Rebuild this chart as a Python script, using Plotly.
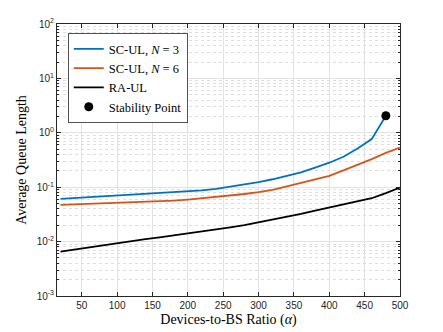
"""Average queue length vs devices-to-BS ratio (log scale)."""

import plotly.graph_objects as go

# Devices-to-BS ratio samples
alpha = [20, 40, 60, 80, 100, 120, 140, 160, 180, 200, 220, 240, 260,
         280, 300, 320, 340, 360, 380, 400, 420, 440, 460, 480, 500]

# SC-UL, N = 3 (stops at the stability point)
alpha_n3 = alpha[:24]
queue_n3 = [0.0610, 0.0631, 0.0652, 0.0673, 0.0695, 0.0719, 0.0745, 0.0771,
            0.0798, 0.0832, 0.0875, 0.0933, 0.102, 0.112, 0.124, 0.140,
            0.160, 0.188, 0.229, 0.282, 0.363, 0.513, 0.766, 2.06]

# SC-UL, N = 6
queue_n6 = [0.0472, 0.0481, 0.0490, 0.0499, 0.0509, 0.0521, 0.0535, 0.0550,
            0.0565, 0.0592, 0.0624, 0.0661, 0.0700, 0.0750, 0.0809, 0.0891,
            0.1035, 0.119, 0.138, 0.162, 0.204, 0.257, 0.328, 0.427, 0.537]

# RA-UL
queue_ra = [0.00653, 0.00716, 0.00782, 0.00853, 0.00933, 0.01016, 0.01107,
            0.0120, 0.01303, 0.01413, 0.0152, 0.0164, 0.0182, 0.0200, 0.0224,
            0.0251, 0.0282, 0.0324, 0.0372, 0.0427, 0.0484, 0.0550, 0.0627,
            0.0776, 0.0984]

# Stability point
stab_alpha = [480]
stab_queue = [2.06]

x_ticks = [50, 100, 150, 200, 250, 300, 350, 400, 450, 500]
y_ticks = [1e-3, 1e-2, 1e-1, 1e0, 1e1, 1e2]
y_labels = ['10<sup>-3</sup>', '10<sup>-2</sup>', '10<sup>-1</sup>',
            '10<sup>0</sup>', '10<sup>1</sup>', '10<sup>2</sup>']
# minor decade positions 2..9 x 10^k for the dotted grid
y_minor = [m * 10.0 ** k for k in range(-3, 2) for m in range(2, 10)]

AXIS_COLOR = '#262626'
SERIF = 'Liberation Serif, DejaVu Serif, serif'

fig = go.Figure()

fig.add_trace(go.Scatter(
    x=alpha_n3, y=queue_n3, name='SC-UL, <i>N</i> = 3', mode='lines',
    line=dict(color='#0072BD', width=1.8)
))
fig.add_trace(go.Scatter(
    x=alpha, y=queue_n6, name='SC-UL, <i>N</i> = 6', mode='lines',
    line=dict(color='#D95319', width=1.8)
))
fig.add_trace(go.Scatter(
    x=alpha, y=queue_ra, name='RA-UL', mode='lines',
    line=dict(color='black', width=1.8)
))
fig.add_trace(go.Scatter(
    x=stab_alpha, y=stab_queue, name='Stability Point', mode='markers',
    marker=dict(color='black', size=9)
))

# page body adds an 8px offset, so the figure is a bit smaller than the window
fig.update_layout(
    width=435,
    height=324,
    margin=dict(l=49, r=43, t=16, b=36),
    paper_bgcolor='white',
    plot_bgcolor='white',
    font=dict(family='Liberation Sans', size=10, color=AXIS_COLOR),
    showlegend=True,
    legend=dict(
        x=0.032, y=0.965, xanchor='left', yanchor='top',
        bgcolor='white', bordercolor=AXIS_COLOR, borderwidth=0.8,
        font=dict(family=SERIF, size=12.5, color='black'),
        tracegroupgap=0, itemwidth=30,
    ),
    xaxis=dict(
        range=[15, 500],
        tickvals=x_ticks,
        ticks='inside', ticklen=4, tickcolor=AXIS_COLOR,
        showline=True, linecolor=AXIS_COLOR, linewidth=1, mirror='ticks',
        showgrid=True, gridcolor='#e3e3e3', gridwidth=1,
        zeroline=False, automargin=False,
        tickfont=dict(size=10, color=AXIS_COLOR),
        title=dict(text='Devices-to-BS Ratio (<i>α</i>)', standoff=4,
                   font=dict(family=SERIF, size=14, color='black')),
    ),
    yaxis=dict(
        type='log',
        range=[-3, 2],
        tickvals=y_ticks, ticktext=y_labels,
        ticks='inside', ticklen=4, tickcolor=AXIS_COLOR,
        showline=True, linecolor=AXIS_COLOR, linewidth=1, mirror='ticks',
        showgrid=True, gridcolor='#e3e3e3', gridwidth=1,
        zeroline=False, automargin=False,
        tickfont=dict(size=10, color=AXIS_COLOR),
        title=dict(text='Average Queue Length', standoff=6,
                   font=dict(family=SERIF, size=14, color='black')),
    ),
    # overlay axis carrying only the dotted minor grid and minor ticks
    yaxis2=dict(
        type='log',
        range=[-3, 2],
        overlaying='y',
        side='left',
        tickvals=y_minor,
        showticklabels=False,
        ticks='inside', ticklen=2, tickcolor=AXIS_COLOR,
        showline=False, mirror='ticks',
        showgrid=True, gridcolor='#dedede', gridwidth=1, griddash='dot',
        zeroline=False, automargin=False,
        layer='below traces',
    ),
)

# empty trace so the overlay axis is drawn
fig.add_trace(go.Scatter(x=[None], y=[None], yaxis='y2', showlegend=False,
                         hoverinfo='skip'))

fig.write_html('out.html')
